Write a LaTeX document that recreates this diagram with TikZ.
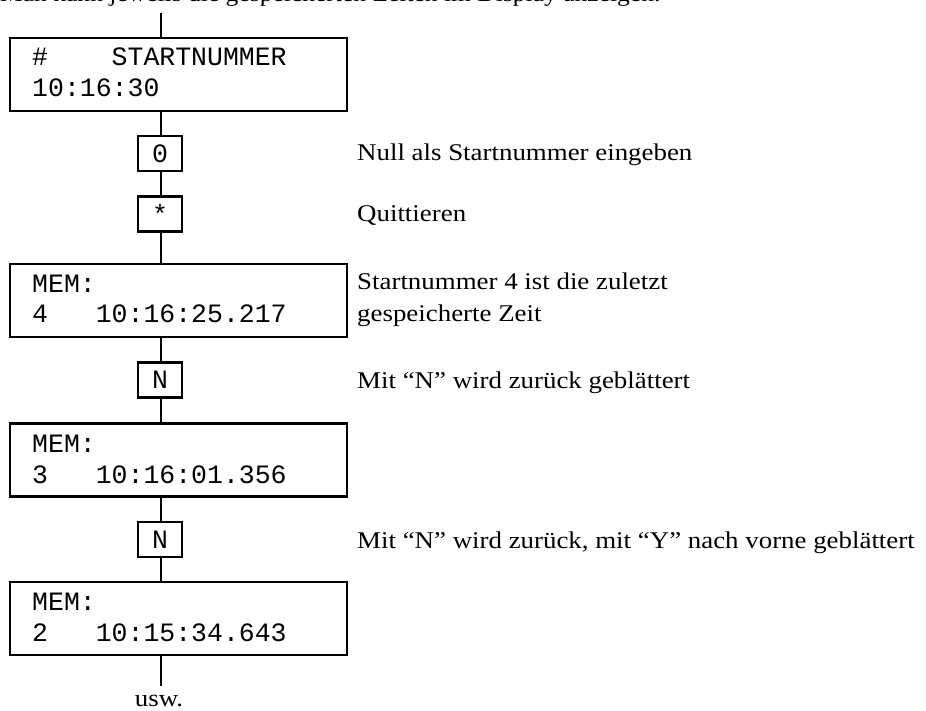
\documentclass[tikz,border=0pt]{standalone}
\usepackage{fontspec}
\setmainfont{Liberation Serif}[FakeStretch=1.12]
\newfontfamily\monofam{Liberation Mono}
\tikzset{
  dispbox/.style={draw, line width=2.2pt, minimum width=337pt, minimum height=73pt, inner sep=0pt},
  keybox/.style={draw, line width=2.2pt, minimum width=44pt, minimum height=35pt, inner sep=0pt, font=\monofam\fontsize{26.5}{30}\selectfont},
  disptext/.style={anchor=base west, inner sep=0pt, font=\monofam\fontsize{26.5}{30}\selectfont},
  desc/.style={anchor=base west, inner sep=0pt, font=\fontsize{24}{28}\selectfont},
  conn/.style={line width=2.2pt}
}
\begin{document}
\begin{tikzpicture}[x=1pt,y=-1pt]
\clip (0,0) rectangle (926,711);
% cut-off heading line
\node[desc, font=\fontsize{22.8}{28}\selectfont] (head) at (0,2) {Man kann jeweils die gespeicherten Zeiten im Display anzeigen.};
% display boxes
\node[dispbox] (b1) at (178.5,74.5) {};
\node[disptext] (b1a) at (32,66) {\#\ \ \ \ STARTNUMMER};
\node[disptext] (b1b) at (32,97) {10:16:30};
\node[keybox] (k0) at (160,153.5) {0};
\node[keybox] (ks) at (160,214) {*};
\node[dispbox] (m1) at (178.5,300.5) {};
\node[disptext] (m1a) at (32,292) {MEM:};
\node[disptext] (m1b) at (32,323) {4\ \ \ 10:16:25.217};
\node[keybox] (n1) at (160,380) {N};
\node[dispbox] (m2) at (178.5,460) {};
\node[disptext] (m2a) at (32,452) {MEM:};
\node[disptext] (m2b) at (32,483) {3\ \ \ 10:16:01.356};
\node[keybox] (n2) at (160,539.5) {N};
\node[dispbox] (m3) at (178.5,618.5) {};
\node[disptext] (m3a) at (32,610) {MEM:};
\node[disptext] (m3b) at (32,641) {2\ \ \ 10:15:34.643};
\coordinate (top) at (161,13);
\coordinate (bot) at (161,686);
\node[desc, anchor=base] (usw) at (159,706) {usw.};
% connectors
\draw[conn] (top) -- (top |- b1.north);
\draw[conn] (top |- b1.south) -- (top |- k0.north);
\draw[conn] (top |- k0.south) -- (top |- ks.north);
\draw[conn] (top |- ks.south) -- (top |- m1.north);
\draw[conn] (top |- m1.south) -- (top |- n1.north);
\draw[conn] (top |- n1.south) -- (top |- m2.north);
\draw[conn] (top |- m2.south) -- (top |- n2.north);
\draw[conn] (top |- n2.south) -- (top |- m3.north);
\draw[conn] (top |- m3.south) -- (bot);
% descriptions
\node[desc] (d1) at (357,161) {Null als Startnummer eingeben};
\node[desc] (d2) at (357,222) {Quittieren};
\node[desc] (d3) at (357,290) {Startnummer 4 ist die zuletzt};
\node[desc] (d3b) at (357,321) {gespeicherte Zeit};
\node[desc] (d4) at (357,388) {Mit “N” wird zurück geblättert};
\node[desc] (d5) at (357,548) {Mit “N” wird zurück, mit “Y” nach vorne geblättert};
\end{tikzpicture}
\end{document}
